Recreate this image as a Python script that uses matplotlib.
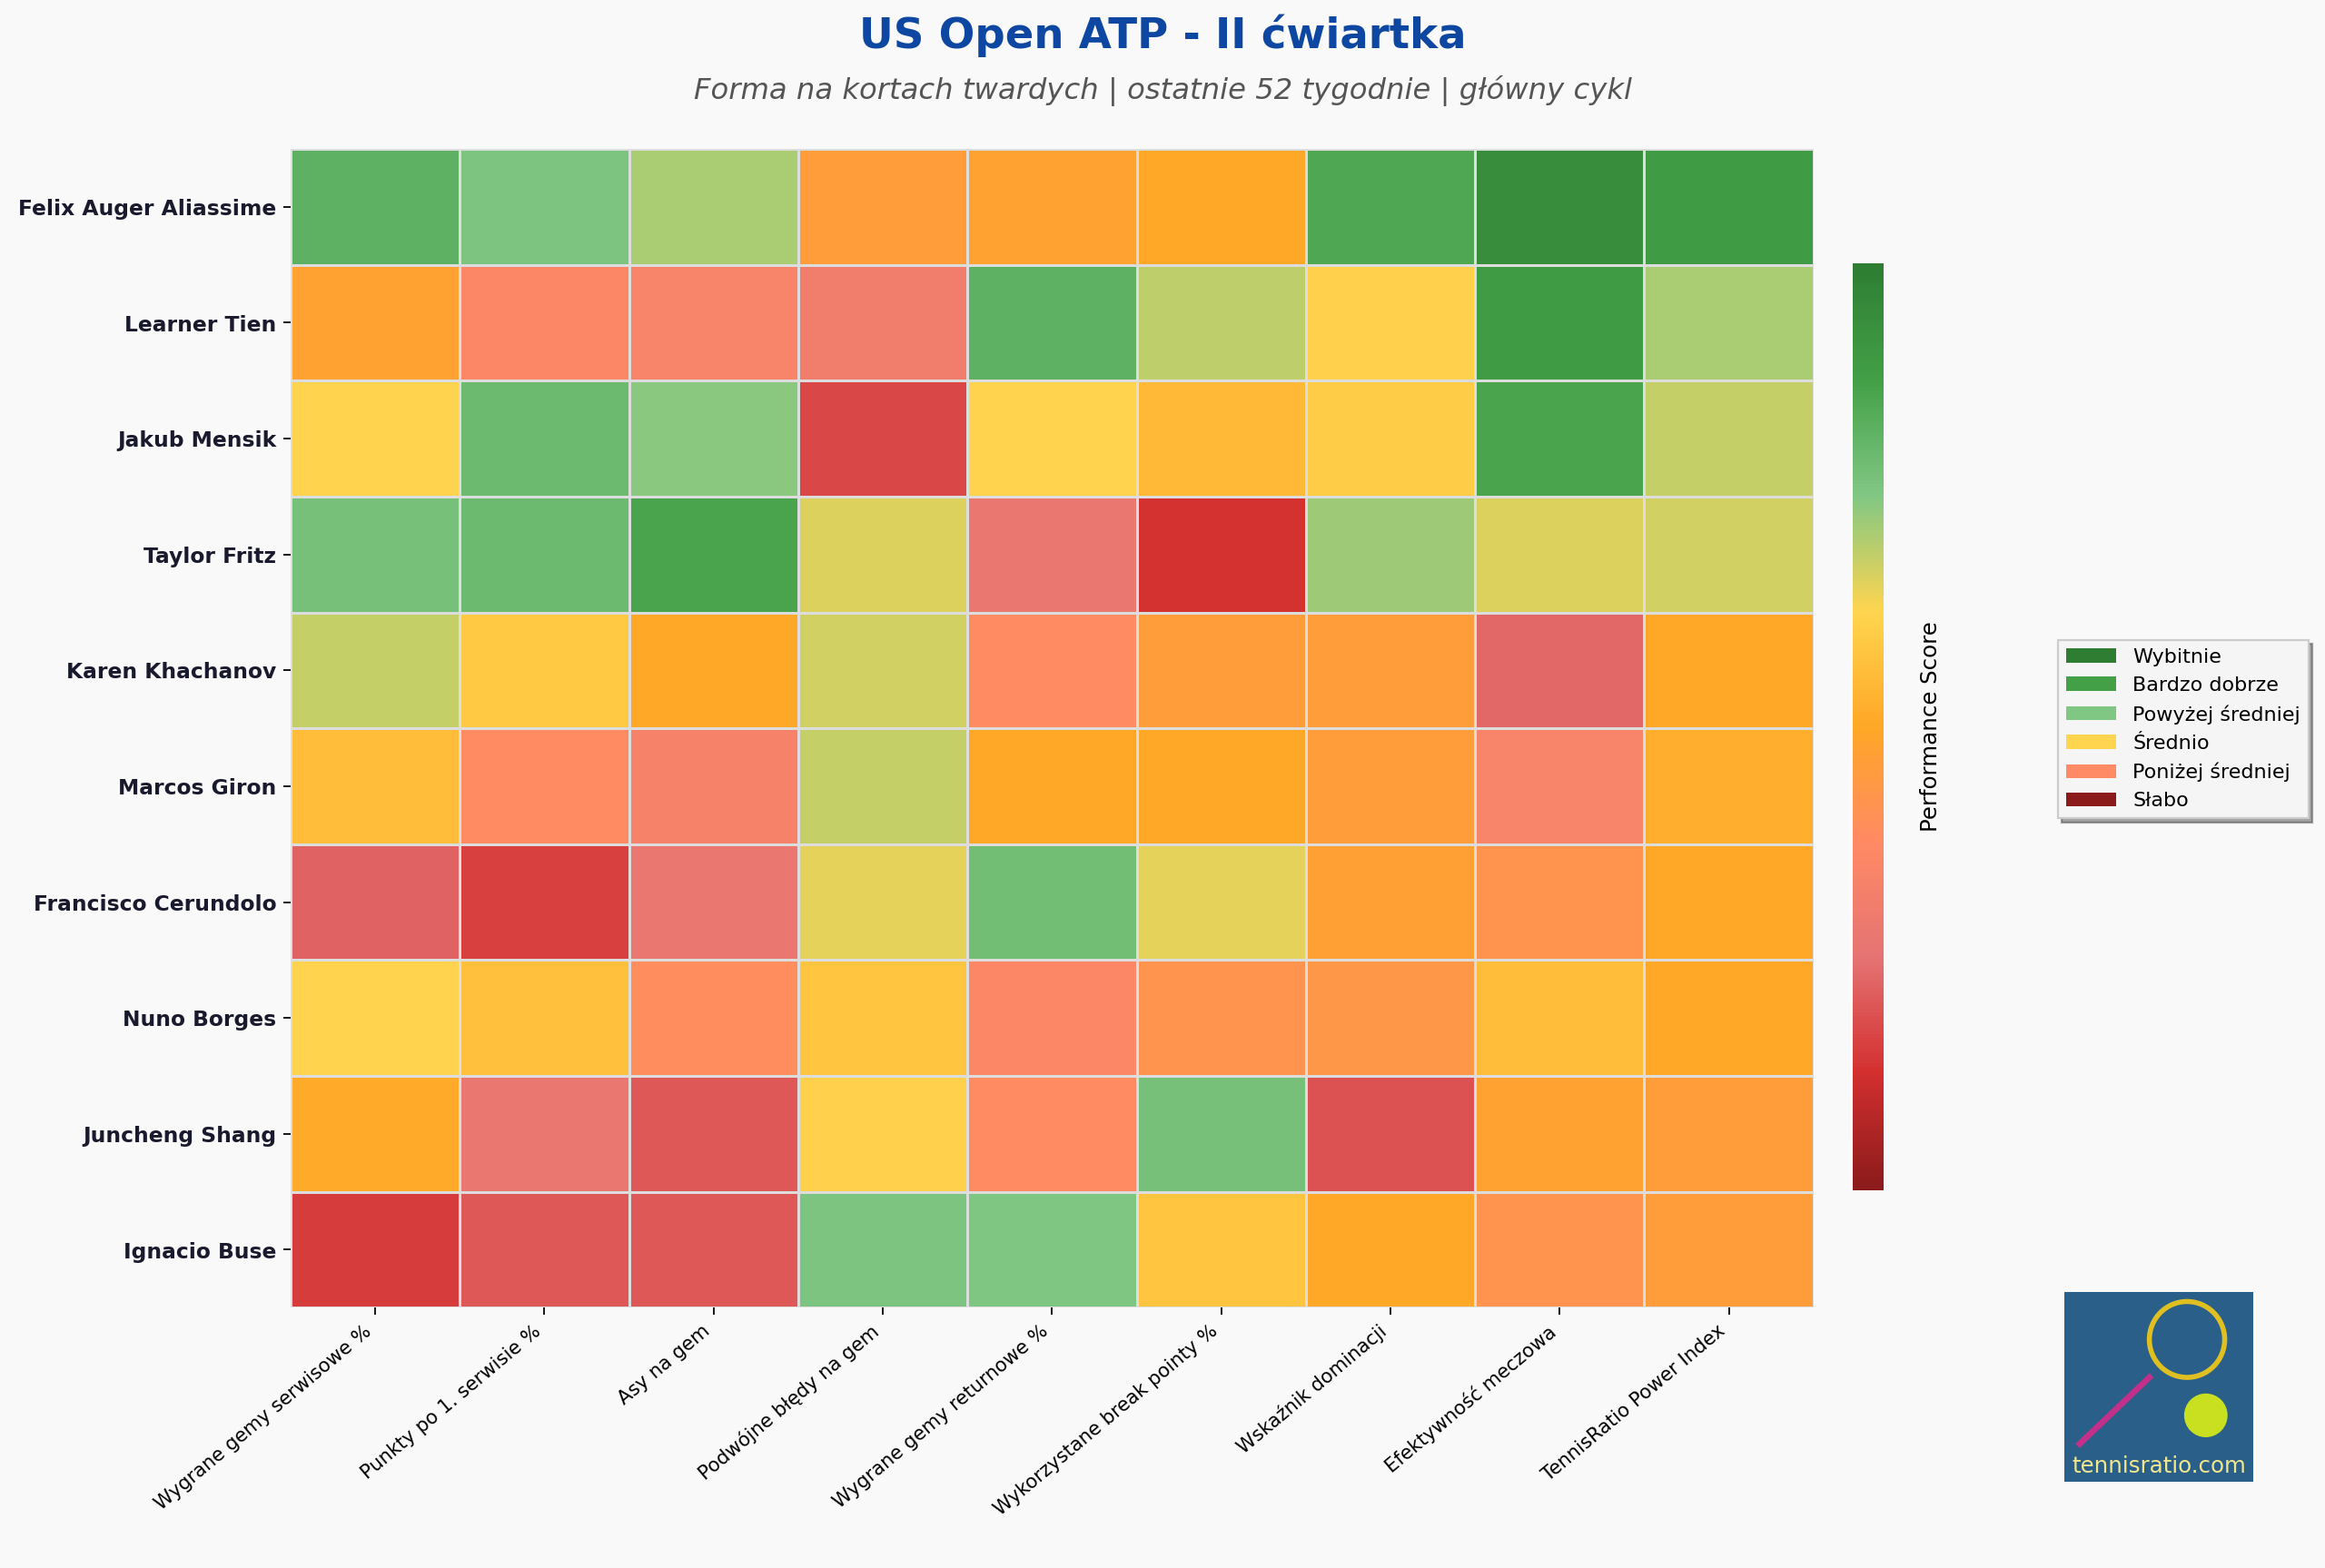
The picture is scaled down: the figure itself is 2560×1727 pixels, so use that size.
import matplotlib.pyplot as plt
import numpy as np
from matplotlib.colors import LinearSegmentedColormap
from matplotlib.patches import Patch, Rectangle, Circle

PLAYERS = ["Felix Auger Aliassime", "Learner Tien", "Jakub Mensik", "Taylor Fritz",
           "Karen Khachanov", "Marcos Giron", "Francisco Cerundolo", "Nuno Borges",
           "Juncheng Shang", "Ignacio Buse"]
METRICS = ["Wygrane gemy serwisowe %", "Punkty po 1. serwisie %", "Asy na gem",
           "Podwójne błędy na gem", "Wygrane gemy returnowe %", "Wykorzystane break pointy %",
           "Wskaźnik dominacji", "Efektywność meczowa", "TennisRatio Power Index"]
SCORES = [
    [0.82, 0.76, 0.71, 0.46, 0.48, 0.50, 0.85, 0.94, 0.89],
    [0.48, 0.36, 0.34, 0.31, 0.82, 0.69, 0.61, 0.89, 0.71],
    [0.62, 0.79, 0.74, 0.17, 0.62, 0.55, 0.60, 0.86, 0.68],
    [0.77, 0.79, 0.86, 0.66, 0.28, 0.13, 0.72, 0.66, 0.67],
    [0.68, 0.59, 0.50, 0.67, 0.38, 0.46, 0.46, 0.23, 0.50],
    [0.56, 0.38, 0.33, 0.68, 0.50, 0.50, 0.46, 0.34, 0.52],
    [0.22, 0.16, 0.28, 0.65, 0.78, 0.65, 0.47, 0.42, 0.50],
    [0.62, 0.57, 0.39, 0.58, 0.36, 0.42, 0.43, 0.56, 0.50],
    [0.51, 0.28, 0.20, 0.61, 0.38, 0.77, 0.19, 0.48, 0.46],
    [0.15, 0.20, 0.20, 0.76, 0.75, 0.58, 0.50, 0.42, 0.46],
]
LEGEND = [("Wybitnie", "#2e7d32"), ("Bardzo dobrze", "#43a047"), ("Powyżej średniej", "#81c784"),
          ("Średnio", "#ffd54f"), ("Poniżej średniej", "#ff8a65"), ("Słabo", "#8b1a1a")]

BG = "#f9f9f9"
cmap = LinearSegmentedColormap.from_list("perf", ["#8b1a1a", "#d32f2f", "#e57373", "#ff8a65", "#ffa726",
                                                  "#ffd54f", "#81c784", "#43a047", "#2e7d32"])

fig = plt.figure(figsize=(16, 10.794), dpi=160, facecolor=BG)
ax = fig.add_axes([0.125, 0.166, 0.655, 0.739])
ax.set_facecolor(BG)
data = np.array(SCORES)
mesh = ax.pcolormesh(data, cmap=cmap, vmin=0, vmax=1, edgecolors="#dddddd", linewidth=1.2)
ax.invert_yaxis()
ax.set_xticks(np.arange(len(METRICS)) + 0.5)
ax.set_xticklabels(METRICS, rotation=40, ha="right", fontsize=9.5)
ax.set_yticks(np.arange(len(PLAYERS)) + 0.5)
ax.set_yticklabels(PLAYERS, fontsize=10.5, fontweight="bold", color="#1a1a2e")
for s in ax.spines.values():
    s.set_visible(False)

cax = fig.add_axes([0.797, 0.241, 0.013, 0.591])
cb = fig.colorbar(mesh, cax=cax)
cb.set_ticks([])
cb.outline.set_visible(False)
cb.set_label("Performance Score", fontsize=11, labelpad=18)

fig.legend(handles=[Patch(facecolor=c, label=l) for l, c in LEGEND], loc="center",
           bbox_to_anchor=(0.939, 0.535), fontsize=10, shadow=True, fancybox=False,
           handlelength=2.5, framealpha=1, facecolor="#f5f5f5", edgecolor="#cccccc")

fig.text(0.5, 0.977, "US Open ATP - II ćwiartka", ha="center", va="center",
         fontsize=21, fontweight="bold", color="#0d47a1")
fig.text(0.5, 0.942, "Forma na kortach twardych | ostatnie 52 tygodnie | główny cykl",
         ha="center", va="center", fontsize=14.5, style="italic", color="#555555")

lax = fig.add_axes([0.888, 0.055, 0.081, 0.121])
lax.set_xlim(0, 1)
lax.set_ylim(0, 1)
lax.axis("off")
lax.add_patch(Rectangle((0, 0), 1, 1, color="#2a5f8a"))
lax.plot([0.08, 0.45], [0.2, 0.55], color="#c2308a", lw=3)
lax.add_patch(Circle((0.65, 0.75), 0.2, fill=False, ec="#e0c020", lw=2.5))
lax.add_patch(Circle((0.75, 0.35), 0.11, color="#c8e020"))
lax.text(0.5, 0.08, "tennisratio.com", ha="center", va="center", color="#f0e68c", fontsize=11)

fig.savefig("out.png", dpi=160, facecolor=BG)
